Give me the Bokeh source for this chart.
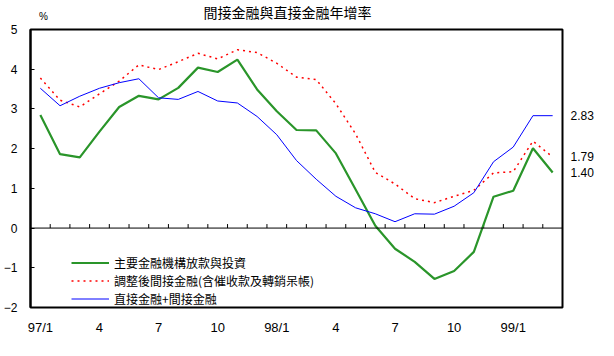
import math
from bokeh.plotting import figure
from bokeh.layouts import column
from bokeh.models import FixedTicker, Legend, LegendItem, Span, LinearAxis, PrintfTickFormatter, Range1d
from bokeh.core.properties import value
from bokeh.embed import file_html
from bokeh.resources import INLINE

# ---- data ----
months = ["97/1", "97/2", "97/3", "97/4", "97/5", "97/6", "97/7", "97/8", "97/9",
          "97/10", "97/11", "97/12", "98/1", "98/2", "98/3", "98/4", "98/5", "98/6",
          "98/7", "98/8", "98/9", "98/10", "98/11", "98/12", "99/1", "99/2", "99/3"]
tick_positions = [0, 3, 6, 9, 12, 15, 18, 21, 24]
tick_labels = ["97/1", "4", "7", "10", "98/1", "4", "7", "10", "99/1"]

loans_invest = [2.85, 1.86, 1.78, 2.43, 3.05, 3.33, 3.24, 3.53, 4.04, 3.93, 4.24, 3.49,
                2.94, 2.47, 2.46, 1.88, 0.97, 0.06, -0.52, -0.85, -1.28, -1.08, -0.60,
                0.79, 0.94, 2.01, 1.40]
adjusted_indirect = [3.78, 3.22, 3.05, 3.38, 3.70, 4.11, 3.99, 4.19, 4.40, 4.26, 4.49, 4.42,
                     4.15, 3.80, 3.74, 3.13, 2.37, 1.40, 1.11, 0.74, 0.64, 0.80, 0.95,
                     1.39, 1.42, 2.19, 1.79]
total_finance = [3.52, 3.08, 3.32, 3.52, 3.66, 3.76, 3.28, 3.24, 3.44, 3.20, 3.15, 2.81,
                 2.35, 1.70, 1.23, 0.80, 0.51, 0.36, 0.16, 0.36, 0.35, 0.55, 0.89,
                 1.67, 2.04, 2.83, 2.83]
y_ticks = [-2, -1, 0, 1, 2, 3, 4, 5]

names = ["主要金融機構放款與投資", "調整後間接金融(含催收款及轉銷呆帳)", "直接金融+間接金融"]
title_text = "間接金融與直接金融年增率"
unit_text = "%"

cjk = "Noto Sans CJK TC"
latin = "Liberation Sans"

W = 596
HEADER_H = 22

# ---- header (title and unit) ----
head = figure(width=W, height=HEADER_H, x_range=Range1d(0, W), y_range=Range1d(0, HEADER_H),
              output_backend="svg", toolbar_location=None,
              min_border_left=0, min_border_right=0, min_border_top=0, min_border_bottom=0)
head.axis.visible = False
head.grid.visible = False
head.outline_line_color = None
head.text(x=[288], y=[11], text=[title_text], text_align="center", text_baseline="middle",
          text_font=value(cjk), text_font_size="14px", text_color="black")
head.text(x=[14.5], y=[6], text=[unit_text], text_align="center", text_baseline="middle",
          text_font=value(latin), text_font_size="10px", text_color="black")

# ---- main chart ----
xs = list(range(len(months)))

p = figure(width=W, height=315, x_range=(-0.5, len(months) - 0.5), y_range=(-2, 5),
           output_backend="svg", toolbar_location=None,
           min_border_left=25, min_border_right=31, min_border_top=7, min_border_bottom=27)

p.xgrid.visible = False
p.ygrid.visible = False
p.outline_line_color = "black"
p.outline_line_width = 2
p.outline_line_alpha = 1
p.background_fill_color = "white"
p.border_fill_color = "white"

# y axis
p.yaxis.ticker = FixedTicker(ticks=y_ticks)
p.yaxis.major_tick_in = 4
p.yaxis.major_tick_out = 0
p.yaxis.minor_tick_line_color = None
p.yaxis.axis_line_color = "black"
p.yaxis.axis_line_width = 2
p.yaxis.major_tick_line_color = "black"
p.yaxis.major_label_text_font = latin
p.yaxis.major_label_text_font_size = "12px"
p.yaxis.major_label_text_color = "black"
p.yaxis.major_label_standoff = 13

# x axis
p.xaxis.ticker = FixedTicker(ticks=tick_positions)
p.xaxis.major_label_overrides = {t: l for t, l in zip(tick_positions, tick_labels)}
p.xaxis.major_tick_in = 0
p.xaxis.major_tick_out = 0
p.xaxis.minor_tick_line_color = None
p.xaxis.axis_line_color = None
p.xaxis.major_label_text_font = latin
p.xaxis.major_label_text_font_size = "13px"
p.xaxis.major_label_text_color = "black"
p.xaxis.major_label_standoff = 12

# right axis showing the last values
end_values = [total_finance[-1], adjusted_indirect[-1], loans_invest[-1]]
raxis = LinearAxis(ticker=FixedTicker(ticks=end_values),
                   formatter=PrintfTickFormatter(format="%.2f"))
raxis.major_tick_in = 0
raxis.major_tick_out = 0
raxis.minor_tick_line_color = None
raxis.axis_line_color = None
raxis.major_label_text_font = latin
raxis.major_label_text_font_size = "12px"
raxis.major_label_text_color = "black"
raxis.major_label_standoff = 8
p.add_layout(raxis, "right")

# zero line with category boundary ticks
p.add_layout(Span(location=0, dimension="width", line_color="black", line_width=1))
p.ray(x=[i + 0.5 for i in xs[:-1]], y=[0] * (len(xs) - 1), length=4, length_units="screen",
      angle=math.pi / 2, line_color="black", line_width=1)

r1 = p.line(xs, loans_invest, line_color="#2a952a", line_width=2.2)
r2 = p.line(xs, adjusted_indirect, line_color="#ff0000", line_width=1.5, line_dash="2 4")
r3 = p.line(xs, total_finance, line_color="#0000ff", line_width=1)

legend = Legend(items=[LegendItem(label=names[0], renderers=[r1]),
                       LegendItem(label=names[1], renderers=[r2]),
                       LegendItem(label=names[2], renderers=[r3])],
                location=(41, 0))
legend.border_line_color = None
legend.background_fill_alpha = 0
legend.label_text_font = cjk
legend.label_text_font_size = "12px"
legend.label_text_color = "black"
legend.glyph_width = 38
legend.glyph_height = 17
legend.label_height = 17
legend.spacing = 1
legend.padding = 0
legend.margin = 0
legend.label_standoff = 5
p.add_layout(legend)

layout = column(head, p, spacing=0)
open("out.html", "w").write(file_html(layout, INLINE))
